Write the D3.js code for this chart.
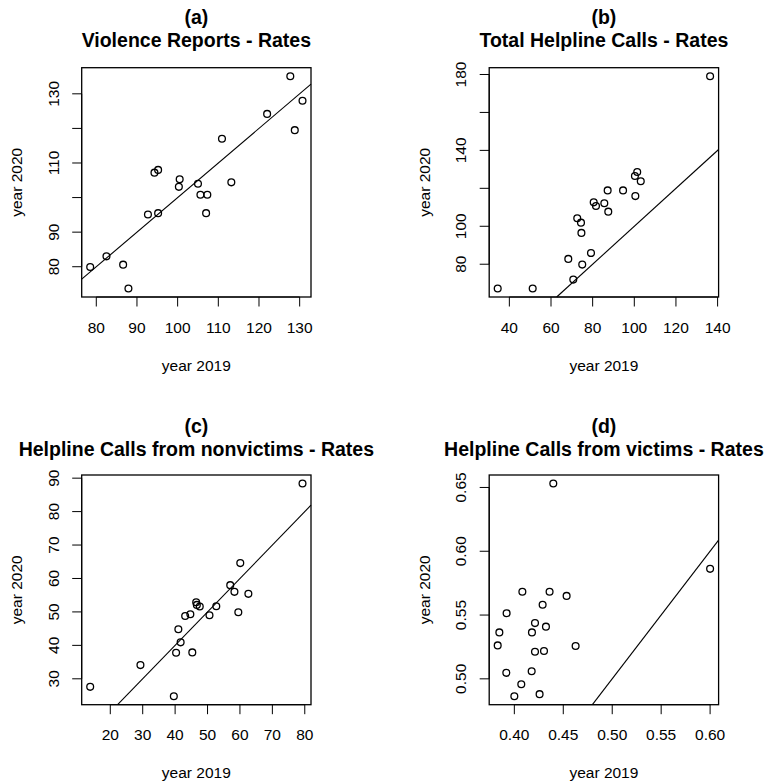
<!DOCTYPE html>
<html>
<head>
<meta charset="utf-8">
<script src="https://cdn.jsdelivr.net/npm/d3@7"></script>
<style>
  html, body { margin: 0; padding: 0; background: #fff; }
  text { font-family: "Liberation Sans", Arial, Helvetica, sans-serif; fill: #000; }
</style>
</head>
<body>
<div id="container"></div>
<script>
// (a) Violence Reports
const violence2019 = [78.5, 82.5, 86.6, 87.9, 92.7, 95.2, 94.3, 95.2, 100.3, 100.5,
  105.0, 105.6, 107.3, 107.0, 110.9, 113.2, 122.0, 127.7, 128.8, 130.7];
const violence2020 = [79.9, 83.0, 80.6, 73.7, 95.1, 95.5, 107.2, 108.0, 103.1, 105.3,
  104.0, 100.8, 100.8, 95.5, 117.0, 104.4, 124.2, 135.1, 119.5, 128.0];

// (b) Total Helpline Calls
const total2019 = [34.4, 51.2, 68.3, 70.7, 75.0, 74.6, 74.4, 72.6, 79.2, 80.5,
  81.6, 85.6, 87.2, 87.5, 94.6, 100.5, 100.3, 101.4, 103.1, 136.4];
const total2020 = [67.2, 67.2, 82.8, 71.9, 79.8, 96.5, 101.9, 104.2, 85.9, 112.6,
  110.7, 112.1, 118.9, 107.7, 118.9, 115.9, 126.5, 128.6, 123.7, 179.1];

// (c) Helpline Calls from nonvictims
const nonvictims2019 = [13.8, 29.3, 39.6, 40.3, 41.7, 41.0, 45.3, 43.1, 44.7, 46.5,
  46.7, 47.6, 50.6, 52.7, 57.0, 58.3, 59.5, 60.1, 62.6, 79.3];
const nonvictims2020 = [27.6, 34.1, 24.8, 37.8, 40.9, 44.8, 37.9, 48.8, 49.3, 52.9,
  52.1, 51.6, 49.0, 51.7, 58.0, 56.0, 49.9, 64.6, 55.4, 88.4];

// (d) Helpline Calls from victims
const victims2019 = [0.383, 0.3847, 0.3921, 0.3918, 0.400, 0.4071, 0.4082, 0.4177, 0.418, 0.4211,
  0.4211, 0.4258, 0.4289, 0.4303, 0.4323, 0.436, 0.4398, 0.4534, 0.4626, 0.600];
const victims2020 = [0.5262, 0.5364, 0.5514, 0.5047, 0.4864, 0.4958, 0.5683, 0.506, 0.5364, 0.5437,
  0.5212, 0.488, 0.5581, 0.5218, 0.5409, 0.5683, 0.6531, 0.565, 0.5257, 0.5862];

// tick values and the labels R actually printed
const aXTicks = [80, 90, 100, 110, 120, 130];
const aYTicks = [80, 90, 100, 110, 120, 130];
const aYLabels = [80, 90, 110, 130];
const bXTicks = [40, 60, 80, 100, 120, 140];
const bYTicks = [80, 100, 120, 140, 160, 180];
const bYLabels = [80, 100, 140, 180];
const cXTicks = [20, 30, 40, 50, 60, 70, 80];
const cYTicks = [30, 40, 50, 60, 70, 80, 90];
const dXTicks = [0.40, 0.45, 0.50, 0.55, 0.60];
const dYTicks = [0.50, 0.55, 0.60, 0.65];

const panelTags = ['(a)', '(b)', '(c)', '(d)'];
const panelTitles = [
  'Violence Reports - Rates',
  'Total Helpline Calls - Rates',
  'Helpline Calls from nonvictims - Rates',
  'Helpline Calls from victims - Rates'
];

const width = 767;
const height = 782;

const panels = [
  {x: violence2019, y: violence2020, xt: aXTicks, yt: aYTicks, yl: aYLabels, fmt: d3.format('d'),
   box: {l: 81.7, r: 311, t: 67.7, b: 297}, tagY: 24, titleY: 46.7},
  {x: total2019, y: total2020, xt: bXTicks, yt: bYTicks, yl: bYLabels, fmt: d3.format('d'),
   box: {l: 489.2, r: 718.6, t: 67.7, b: 297}, tagY: 24, titleY: 46.7},
  {x: nonvictims2019, y: nonvictims2020, xt: cXTicks, yt: cYTicks, yl: cYTicks, fmt: d3.format('d'),
   box: {l: 81.7, r: 311, t: 475, b: 704.7}, tagY: 433.3, titleY: 456},
  {x: victims2019, y: victims2020, xt: dXTicks, yt: dYTicks, yl: dYTicks, fmt: d3.format('.2f'),
   box: {l: 489.2, r: 718.6, t: 475, b: 704.7}, tagY: 433.3, titleY: 456}
];

// R pads the data range by 4% on each side
function rRange(v) {
  const [lo, hi] = d3.extent(v);
  const pad = (hi - lo) * 0.04;
  return [lo - pad, hi + pad];
}

const svg = d3.select('#container').append('svg')
  .attr('width', width)
  .attr('height', height)
  .attr('viewBox', [0, 0, width, height]);

svg.append('rect').attr('width', width).attr('height', height).attr('fill', '#fff');

panels.forEach((p, i) => {
  const {box} = p;
  const xDom = rRange(p.x);
  const yDom = rRange(p.y);
  const x = d3.scaleLinear().domain(xDom).range([box.l, box.r]);
  const y = d3.scaleLinear().domain(yDom).range([box.b, box.t]);
  const cx = (box.l + box.r) / 2;
  const cy = (box.t + box.b) / 2;

  const g = svg.append('g');

  // titles
  g.append('text')
    .attr('x', cx).attr('y', p.tagY)
    .attr('text-anchor', 'middle')
    .attr('font-size', 19.5).attr('font-weight', 'bold')
    .text(panelTags[i]);
  g.append('text')
    .attr('x', cx).attr('y', p.titleY)
    .attr('text-anchor', 'middle')
    .attr('font-size', 19.5).attr('font-weight', 'bold')
    .text(panelTitles[i]);

  // x axis ticks (R style: axis line spans first to last tick)
  const xAxis = g.append('g').attr('stroke', '#000').attr('stroke-width', 1);
  xAxis.append('line')
    .attr('x1', x(p.xt[0])).attr('x2', x(p.xt[p.xt.length - 1]))
    .attr('y1', box.b).attr('y2', box.b);
  xAxis.selectAll('.xtick').data(p.xt).join('line')
    .attr('x1', d => x(d)).attr('x2', d => x(d))
    .attr('y1', box.b).attr('y2', box.b + 9.5);
  g.selectAll('.xlab').data(p.xt).join('text')
    .attr('x', d => x(d)).attr('y', box.b + 35.5)
    .attr('text-anchor', 'middle')
    .attr('font-size', 15.5)
    .text(d => p.fmt(d));

  // y axis ticks
  const yAxis = g.append('g').attr('stroke', '#000').attr('stroke-width', 1);
  yAxis.append('line')
    .attr('x1', box.l).attr('x2', box.l)
    .attr('y1', y(p.yt[0])).attr('y2', y(p.yt[p.yt.length - 1]));
  yAxis.selectAll('.ytick').data(p.yt).join('line')
    .attr('x1', box.l).attr('x2', box.l - 9.5)
    .attr('y1', d => y(d)).attr('y2', d => y(d));
  g.selectAll('.ylab').data(p.yl).join('text')
    .attr('transform', d => `translate(${box.l - 23},${y(d)}) rotate(-90)`)
    .attr('text-anchor', 'middle')
    .attr('font-size', 15.5)
    .text(d => p.fmt(d));

  // axis titles
  g.append('text')
    .attr('x', cx).attr('y', box.b + 73.5)
    .attr('text-anchor', 'middle')
    .attr('font-size', 15.5)
    .text('year 2019');
  g.append('text')
    .attr('transform', `translate(${box.l - 59.5},${cy}) rotate(-90)`)
    .attr('text-anchor', 'middle')
    .attr('font-size', 15.5)
    .text('year 2020');

  // plot box
  g.append('rect')
    .attr('x', box.l).attr('y', box.t)
    .attr('width', box.r - box.l).attr('height', box.b - box.t)
    .attr('fill', 'none').attr('stroke', '#000').attr('stroke-width', 1.3);

  // identity line y = x, clipped to the plot region
  const lo = Math.max(xDom[0], yDom[0]);
  const hi = Math.min(xDom[1], yDom[1]);
  g.append('line')
    .attr('x1', x(lo)).attr('y1', y(lo))
    .attr('x2', x(hi)).attr('y2', y(hi))
    .attr('stroke', '#000').attr('stroke-width', 1.1);

  // points
  g.selectAll('circle').data(p.x).join('circle')
    .attr('cx', d => x(d))
    .attr('cy', (d, j) => y(p.y[j]))
    .attr('r', 3.4)
    .attr('fill', 'none')
    .attr('stroke', '#000')
    .attr('stroke-width', 1.3);
});
</script>
</body>
</html>
